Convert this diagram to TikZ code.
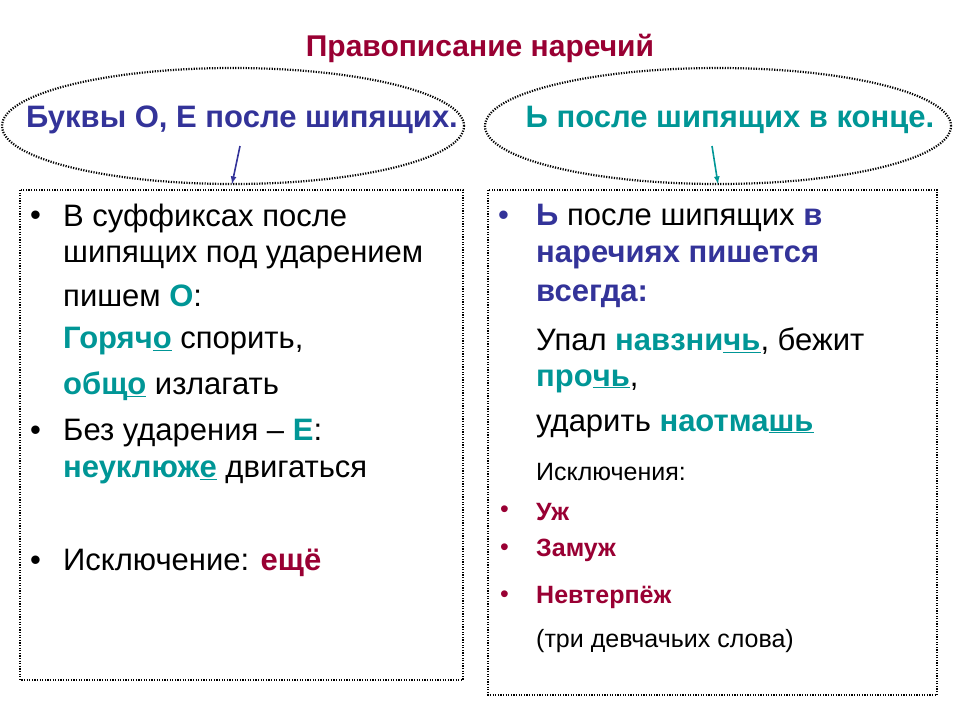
\documentclass[tikz,border=0pt]{standalone}
\usepackage{fontspec}
\setmainfont{Liberation Sans}
\usetikzlibrary{shapes.geometric}
\definecolor{navy}{RGB}{51,51,153}
\definecolor{teal2}{RGB}{0,150,150}
\definecolor{dred}{RGB}{153,0,51}
\begin{document}
\begin{tikzpicture}[x=1pt,y=-1pt,
 t/.style={anchor=west,inner sep=0,font=\fontsize{31}{34}\selectfont},
 s/.style={anchor=west,inner sep=0,font=\fontsize{25}{28}\selectfont},
 dot/.style={draw,line width=2.2pt,dash pattern=on 1.2pt off 1.4pt},
 arr/.style={-latex,line width=1.6pt}]
\useasboundingbox (0,0) rectangle (960,720);
\node[inner sep=0,font=\fontsize{30}{32}\selectfont\bfseries,text=dred] (title) at (480,48) {Правописание наречий};
\node[dot,ellipse,minimum width=462,minimum height=116,inner sep=0] (e1) at (233,126) {};
\node[dot,ellipse,minimum width=466,minimum height=116,inner sep=0] (e2) at (718,126) {};
\node[t,anchor=center,text=navy,font=\fontsize{31}{34}\selectfont\bfseries] (h1) at (242,120) {Буквы О, Е после шипящих.};
\node[t,anchor=center,text=teal2,font=\fontsize{31}{34}\selectfont\bfseries] (h2) at (730,120) {Ь после шипящих в конце.};
\draw[dot] (20,190) rectangle (463,680);
\draw[dot] (488,190) rectangle (937,695);
\coordinate (b1) at (232,184);
\coordinate (b2) at (718,184);
\coordinate (a1) at (240,146);
\coordinate (a2) at (712,146);
\draw[arr,navy] (a1) -- (b1);
\draw[arr,teal2] (a2) -- (b2);
% left
\node[t] (l0b) at (30,218) {•};
\node[t] (l1) at (63,218) {В суффиксах после};
\node[t] (l2) at (63,257) {шипящих под ударением};
\node[t] (l3) at (63,296) {пишем \textcolor{teal2}{\textbf{О}}:};
\node[t] (l4) at (63,341) {\textcolor{teal2}{\textbf{Горяч\underline{о}}} спорить,};
\node[t] (l5) at (63,386) {\textcolor{teal2}{\textbf{общ\underline{о}}} излагать};
\node[t] (l6b) at (30,433) {•};
\node[t] (l6) at (63,433) {Без ударения – \textcolor{teal2}{\textbf{Е}}:};
\node[t] (l7) at (63,472) {\textcolor{teal2}{\textbf{неуклюж\underline{е}}} двигаться};
\node[t] (l8b) at (30,563) {•};
\node[t] (l8) at (63,563) {Исключение: \textcolor{dred}{\textbf{ещё}}};
% right
\node[t,text=navy] (r0b) at (498,218) {•};
\node[t] (r1) at (536,218) {\textcolor{navy}{\textbf{Ь}} после шипящих \textcolor{navy}{\textbf{в}}};
\node[t,text=navy] (r2) at (536,257) {\textbf{наречиях пишется}};
\node[t,text=navy] (r3) at (536,296) {\textbf{всегда:}};
\node[t] (r4) at (536,341) {Упал \textcolor{teal2}{\textbf{навзни\underline{чь}}}, бежит};
\node[t] (r5) at (536,381) {\textcolor{teal2}{\textbf{про\underline{чь}}},};
\node[t] (r6) at (536,426) {ударить \textcolor{teal2}{\textbf{наотма\underline{шь}}}};
\node[s] (r7) at (536,472) {Исключения:};
\node[s,text=dred] (r8b) at (500,512) {•};
\node[s,text=dred] (r8) at (536,512) {\textbf{Уж}};
\node[s,text=dred] (r9b) at (500,550) {•};
\node[s,text=dred] (r9) at (536,550) {\textbf{Замуж}};
\node[s,text=dred] (r10b) at (500,597) {•};
\node[s,text=dred] (r10) at (536,597) {\textbf{Невтерпёж}};
\node[s] (r11) at (536,641) {(три девчачьих слова)};
\end{tikzpicture}
\end{document}
